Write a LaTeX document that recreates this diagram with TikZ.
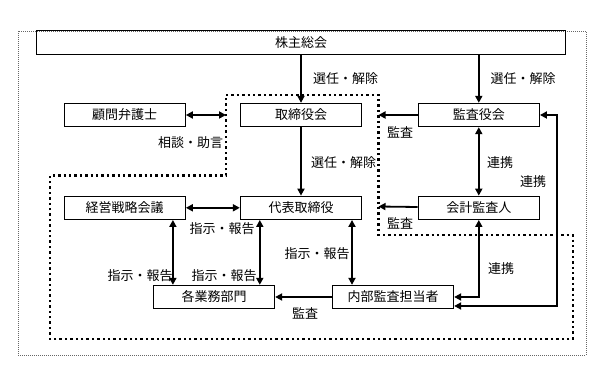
\documentclass[tikz,border=0pt]{standalone}
\usepackage{fontspec}
\newfontfamily\jpfont{Noto Sans CJK JP}
\usepackage{tikz}
\usetikzlibrary{positioning,arrows.meta}
\tikzset{
  orgbox/.style={draw, line width=0.8pt, minimum width=121.5pt, minimum height=23.5pt, inner sep=0pt},
  lbl/.style={inner sep=0pt},
  arr/.style={line width=1.8pt, -{Triangle[length=7pt,width=7pt]}},
  darr/.style={line width=1.8pt, {Triangle[length=7pt,width=7pt]}-{Triangle[length=7pt,width=7pt]}},
  outerdot/.style={line width=0.9pt, draw=black!60, dash pattern=on 1pt off 1pt},
  innerdot/.style={line width=2.4pt, dash pattern=on 2.4pt off 3pt}
}
\begin{document}
\begin{tikzpicture}[x=1pt,y=-1pt,every node/.style={font=\jpfont\fontsize{13pt}{15pt}\selectfont}]
\useasboundingbox (0,0) rectangle (606,379);
% FRAMES: thin outer frame and thick boundary of the board side
\draw[outerdot] (18.3,31) rectangle (586,355);
\draw[innerdot] (226,95) -- (378.5,95) -- (378.5,235) -- (572.7,235) -- (572.7,339) -- (50,339) -- (50,175.5) -- (226,175.5) -- cycle;
% ROW 1: shareholders meeting
\node[orgbox, minimum width=529pt] (sh) at (301.2,42.5) {株主総会};
% ROW 2: board, counsel and auditors
\node[orgbox] (tori) at (301,115) {取締役会};
\node[orgbox, left=54pt of tori] (komon) {顧問弁護士};
\node[orgbox, right=55.5pt of tori] (kansa) {監査役会};
% ROW 3: representative director, strategy meeting, accounting auditor
\node[orgbox, below=68.5pt of tori] (daihyo) {代表取締役};
\node[orgbox, below=68.5pt of komon] (senryaku) {経営戦略会議};
\node[orgbox, below=68.5pt of kansa] (kaikei) {会計監査人};
% ROW 4: business units and internal audit
\node[orgbox] (gyomu) at (214,297) {各業務部門};
\node[orgbox] (naibu) at (393,297) {内部監査担当者};
% free ends on the dotted boundary
\coordinate (kb) at (226,115);
\coordinate (ka1) at (378.5,115);
\coordinate (ka2) at (378.5,206.5);
% CONNECTORS
\draw[arr] (sh.south -| tori) -- (tori.north);
\draw[arr] (sh.south -| kansa) -- (kansa.north);
\draw[darr] (komon) -- (kb);
\draw[arr] (kansa) -- (ka1);
\draw[arr] (tori) -- (daihyo);
\draw[darr] (kansa) -- (kaikei);
\draw[darr] (senryaku) -- (daihyo);
\draw[arr] (kaikei) -- (ka2);
\draw[darr] ([xshift=48.2pt]senryaku.south) -- ([xshift=48.2pt]senryaku.south |- gyomu.north);
\draw[darr] ([xshift=-41.2pt]daihyo.south) -- ([xshift=-41.2pt]daihyo.south |- gyomu.north);
\draw[darr] ([xshift=51pt]daihyo.south) -- ([xshift=51pt]daihyo.south |- naibu.north);
\draw[arr] (naibu) -- (gyomu);
\draw[darr] (kaikei.south) |- (naibu.east);
\draw[darr] (kansa.east) -- ++(17.4,0) |- ([yshift=-9pt]naibu.east);
% LABELS
\node[lbl] (l1) at (345.5,79) {選任・解除};
\node[lbl] (l2) at (523,79) {選任・解除};
\node[lbl] (l3) at (190.7,143) {相談・助言};
\node[lbl] (l4) at (400,132) {監査};
\node[lbl] (l5) at (343.6,163) {選任・解除};
\node[lbl] (l6) at (500,163) {連携};
\node[lbl] (l7) at (533,182) {連携};
\node[lbl] (l8) at (400,223) {監査};
\node[lbl] (l9) at (222,229) {指示・報告};
\node[lbl] (l10) at (317,254) {指示・報告};
\node[lbl] (l11) at (140,276) {指示・報告};
\node[lbl] (l12) at (224,276) {指示・報告};
\node[lbl] (l13) at (501,269) {連携};
\node[lbl] (l14) at (305,313) {監査};
\end{tikzpicture}
\end{document}
